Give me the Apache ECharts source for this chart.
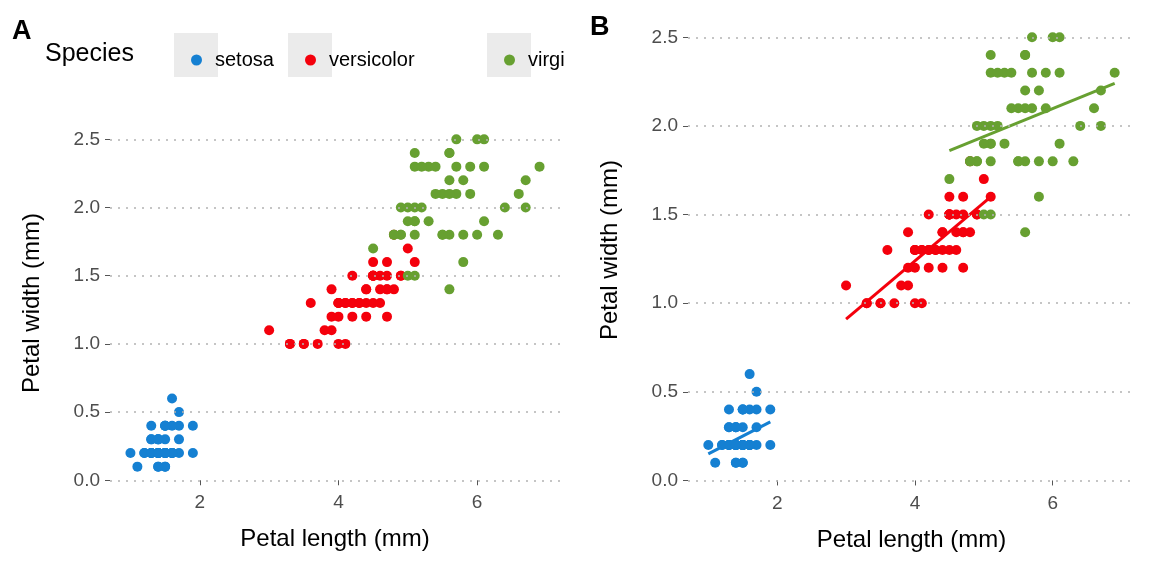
<!DOCTYPE html>
<html>
<head>
<meta charset="utf-8">
<script src="https://cdn.jsdelivr.net/npm/echarts@6/dist/echarts.min.js"></script>
<style>html,body{margin:0;padding:0;background:#fff}#main{width:1152px;height:576px}</style>
</head>
<body>
<div id="main"></div>
<script>
var species = ['setosa', 'versicolor', 'virginica'];
var colors = ['#1580d2', '#f4000c', '#67a031'];

var setosaLength = [1.4,1.4,1.3,1.5,1.4,1.7,1.4,1.5,1.4,1.5,1.5,1.6,1.4,1.1,1.2,1.5,1.3,1.4,1.7,1.5,1.7,1.5,1.0,1.7,1.9,1.6,1.6,1.5,1.4,1.6,1.6,1.5,1.5,1.4,1.5,1.2,1.3,1.4,1.3,1.5,1.3,1.3,1.3,1.6,1.9,1.4,1.6,1.4,1.5,1.4];
var setosaWidth = [0.2,0.2,0.2,0.2,0.2,0.4,0.3,0.2,0.2,0.1,0.2,0.2,0.1,0.1,0.2,0.4,0.4,0.3,0.3,0.3,0.2,0.4,0.2,0.5,0.2,0.2,0.4,0.2,0.2,0.2,0.2,0.4,0.1,0.2,0.2,0.2,0.2,0.1,0.2,0.2,0.3,0.3,0.2,0.6,0.4,0.3,0.2,0.2,0.2,0.2];
var versicolorLength = [4.7,4.5,4.9,4.0,4.6,4.5,4.7,3.3,4.6,3.9,3.5,4.2,4.0,4.7,3.6,4.4,4.5,4.1,4.5,3.9,4.8,4.0,4.9,4.7,4.3,4.4,4.8,5.0,4.5,3.5,3.8,3.7,3.9,5.1,4.5,4.5,4.7,4.4,4.1,4.0,4.4,4.6,4.0,3.3,4.2,4.2,4.2,4.3,3.0,4.1];
var versicolorWidth = [1.4,1.5,1.5,1.3,1.5,1.3,1.6,1.0,1.3,1.4,1.0,1.5,1.0,1.4,1.3,1.4,1.5,1.0,1.5,1.1,1.8,1.3,1.5,1.2,1.3,1.4,1.4,1.7,1.5,1.0,1.1,1.0,1.2,1.6,1.5,1.6,1.5,1.3,1.3,1.3,1.2,1.4,1.2,1.0,1.3,1.2,1.3,1.3,1.1,1.3];
var virginicaLength = [6.0,5.1,5.9,5.6,5.8,6.6,4.5,6.3,5.8,6.1,5.1,5.3,5.5,5.0,5.1,5.3,5.5,6.7,6.9,5.0,5.7,4.9,6.7,4.9,5.7,6.0,4.8,4.9,5.6,5.8,6.1,6.4,5.6,5.1,5.6,6.1,5.6,5.5,4.8,5.4,5.6,5.1,5.1,5.9,5.7,5.2,5.0,5.2,5.4,5.1];
var virginicaWidth = [2.5,1.9,2.1,1.8,2.2,2.1,1.7,1.8,1.8,2.5,2.0,1.9,2.1,2.0,2.4,2.3,1.8,2.2,2.3,1.5,2.3,2.0,2.0,1.8,2.1,1.8,1.8,1.8,2.1,1.6,1.9,2.0,2.2,1.5,1.4,2.3,2.4,1.8,1.8,2.1,2.4,2.3,1.9,2.3,2.5,2.3,1.9,2.0,2.3,1.8];

// fitted line end points
var setosaFit = [[1.0, 0.15], [1.9, 0.33]];
var versicolorFit = [[3.0, 0.91], [5.1, 1.60]];
var virginicaFit = [[4.5, 1.86], [6.9, 2.24]];

var xTicks = [2, 4, 6];
var yTicks = [0, 0.5, 1, 1.5, 2, 2.5];

function zip(a, b) {
    var out = [];
    for (var i = 0; i < a.length; i++) out.push([a[i], b[i]]);
    return out;
}
var points = [zip(setosaLength, setosaWidth), zip(versicolorLength, versicolorWidth), zip(virginicaLength, virginicaWidth)];
var fits = [setosaFit, versicolorFit, virginicaFit];

var chart = echarts.init(document.getElementById('main'));

function xAxisFor(i) {
    return {
        gridIndex: i, type: 'value', min: 0.705, max: 7.195,
        name: 'Petal length (mm)', nameLocation: 'middle', nameGap: 44,
        nameTextStyle: {color: '#000', fontSize: 24, fontFamily: 'Liberation Sans'},
        axisLine: {show: false},
        axisTick: {show: true, length: 5, lineStyle: {color: '#555'}, customValues: xTicks},
        axisLabel: {color: '#4d4d4d', fontSize: 19, margin: 10, customValues: xTicks, fontFamily: 'Liberation Sans'},
        splitLine: {show: false}
    };
}
function yAxisFor(i) {
    return {
        gridIndex: i, type: 'value', min: -0.02, max: 2.62,
        name: 'Petal width (mm)', nameLocation: 'middle', nameGap: 66,
        nameTextStyle: {color: '#000', fontSize: 24, fontFamily: 'Liberation Sans'},
        axisLine: {show: false},
        axisTick: {show: true, length: 5, lineStyle: {color: '#555'}, customValues: yTicks},
        axisLabel: {color: '#4d4d4d', fontSize: 19, margin: 10, customValues: yTicks,
            formatter: function (v) { return v.toFixed(1); }, fontFamily: 'Liberation Sans'},
        splitLine: {show: false}
    };
}

var series = [];
[0, 1].forEach(function (g) {
    // dotted horizontal grid lines
    series.push({
        type: 'scatter', xAxisIndex: g, yAxisIndex: g, data: [], silent: true,
        markLine: {silent: true, symbol: 'none', label: {show: false},
            lineStyle: {type: [2, 6], color: '#b3b3b3', width: 1.5},
            data: yTicks.map(function (v) { return {yAxis: v}; })}
    });
    for (var s = 0; s < 3; s++) {
        series.push({
            name: species[s], type: 'scatter', xAxisIndex: g, yAxisIndex: g,
            data: points[s], symbolSize: 10, itemStyle: {color: colors[s], opacity: 1}
        });
        if (g === 1) {
            series.push({
                type: 'line', xAxisIndex: 1, yAxisIndex: 1, data: fits[s],
                showSymbol: false, lineStyle: {color: colors[s], width: 3}, silent: true
            });
        }
    }
});

var legendLefts = [186, 300, 499];
var legends = species.map(function (name, i) {
    return {
        left: legendLefts[i], top: 45, icon: 'circle', itemWidth: 11, itemHeight: 11,
        data: [name],
        formatter: function (n) { return n === 'virginica' ? 'virgi' : n; },
        textStyle: {fontSize: 20, color: '#000', padding: [0, 0, 0, 8]}
    };
});

chart.setOption({
    animation: false,
    textStyle: {fontFamily: 'Liberation Sans'},
    grid: [
        {left: 110, right: 592, top: 123, height: 360},
        {left: 688, right: 17, top: 16, height: 468}
    ],
    xAxis: [xAxisFor(0), xAxisFor(1)],
    yAxis: [yAxisFor(0), yAxisFor(1)],
    legend: legends,
    graphic: [
        {type: 'text', left: 12, top: 18, style: {text: 'A', fontSize: 27, fontWeight: 'bold', fill: '#000'}},
        {type: 'text', left: 590, top: 14, style: {text: 'B', fontSize: 27, fontWeight: 'bold', fill: '#000'}},
        {type: 'text', left: 45, top: 42, style: {text: 'Species', fontSize: 25, fill: '#000'}},
        {type: 'rect', z: -1, shape: {x: 174, y: 33, width: 44, height: 44}, style: {fill: '#ebebeb'}},
        {type: 'rect', z: -1, shape: {x: 288, y: 33, width: 44, height: 44}, style: {fill: '#ebebeb'}},
        {type: 'rect', z: -1, shape: {x: 487, y: 33, width: 44, height: 44}, style: {fill: '#ebebeb'}}
    ],
    series: series
});
</script>
</body>
</html>
